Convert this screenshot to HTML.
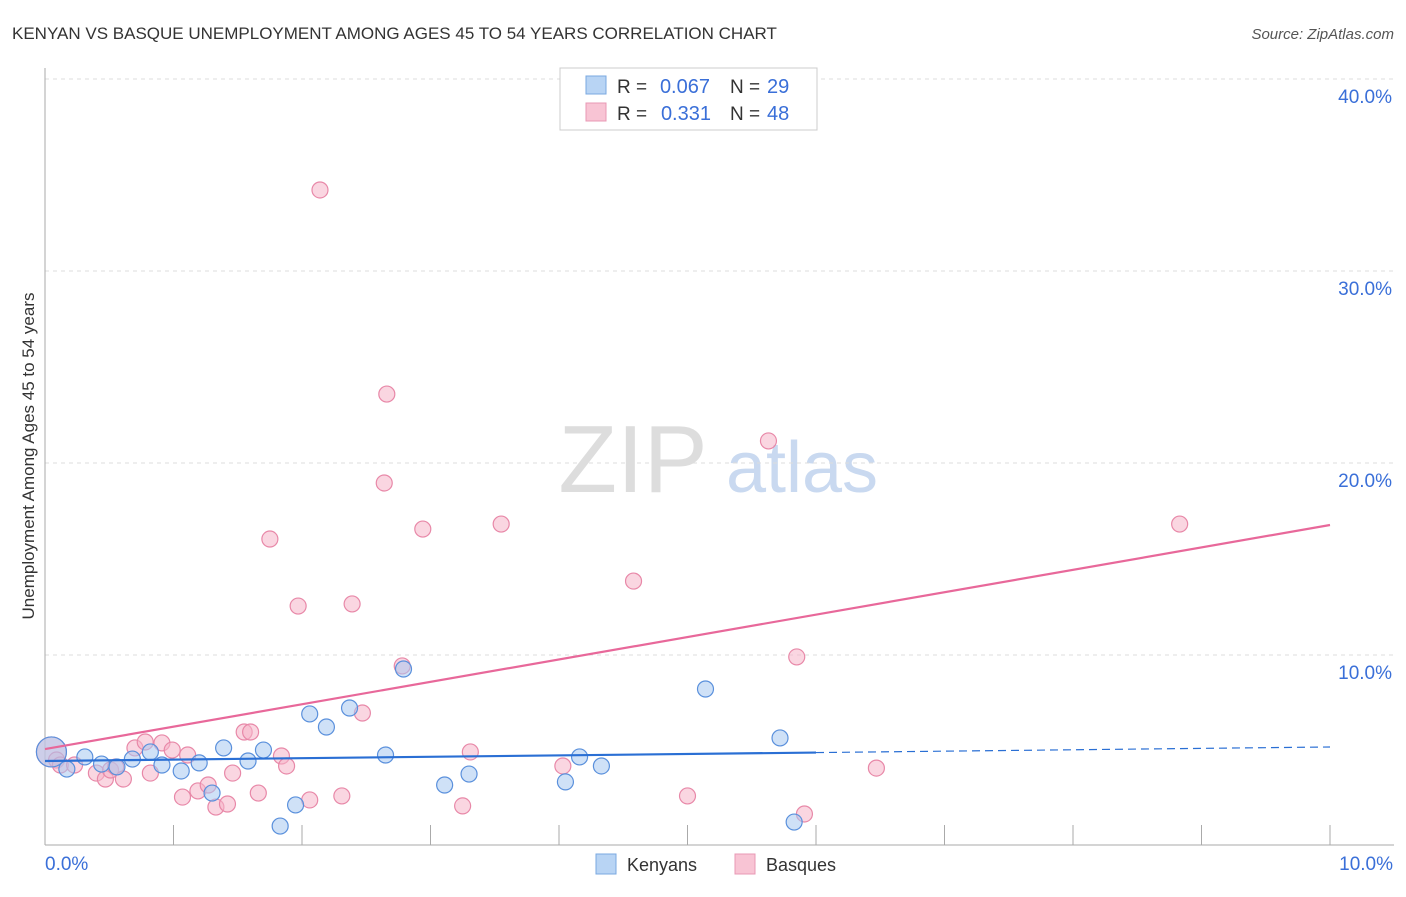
<!DOCTYPE html>
<html><head><meta charset="utf-8"><style>
body{margin:0;background:#fff;font-family:"Liberation Sans",sans-serif;}
svg text{font-family:"Liberation Sans",sans-serif;}
</style></head><body>
<svg id="chart" width="1406" height="892">
<text x="12" y="39" font-size="17" fill="#333">KENYAN VS BASQUE UNEMPLOYMENT AMONG AGES 45 TO 54 YEARS CORRELATION CHART</text>
<text x="1394" y="39" font-size="15" fill="#555" font-style="italic" text-anchor="end">Source: ZipAtlas.com</text>
<text x="633" y="492" font-size="96" fill="#ddd" font-family="Liberation Serif" text-anchor="middle">ZIP</text>
<text x="802" y="492" font-size="72" fill="#c9d9f0" text-anchor="middle">atlas</text>
<text transform="translate(34,456) rotate(-90)" font-size="17" fill="#333" text-anchor="middle">Unemployment Among Ages 45 to 54 years</text>
<g id="grid"></g><g id="marks"></g>
<g>
<rect x="560" y="68" width="257" height="62" fill="#fff" stroke="#ccc"/>
<rect x="586" y="76" width="20" height="18" fill="#b8d4f4" stroke="#7aa8e0"/>
<rect x="586" y="103" width="20" height="18" fill="#f8c4d4" stroke="#e898b4"/>
<text x="617" y="93" font-size="19" fill="#333">R =</text>
<text x="710" y="93" font-size="20" fill="#3a6fd8" text-anchor="end">0.067</text>
<text x="730" y="93" font-size="19" fill="#333">N =</text>
<text x="767" y="93" font-size="20" fill="#3a6fd8">29</text>
<text x="617" y="120" font-size="19" fill="#333">R =</text>
<text x="711" y="120" font-size="20" fill="#3a6fd8" text-anchor="end">0.331</text>
<text x="730" y="120" font-size="19" fill="#333">N =</text>
<text x="767" y="120" font-size="20" fill="#3a6fd8">48</text>
</g>
<g>
<rect x="596" y="854" width="20" height="20" fill="#b8d4f4" stroke="#7aa8e0"/>
<text x="627" y="871" font-size="18" fill="#333">Kenyans</text>
<rect x="735" y="854" width="20" height="20" fill="#f8c4d4" stroke="#e898b4"/>
<text x="766" y="871" font-size="18" fill="#333">Basques</text>
</g>
</svg>
<script>
const yTicks=[10,20,30,40];
const xTickLabels=["0.0%","10.0%"];
const kenX=[0.05,0.17,0.31,0.44,0.56,0.68,0.82,0.91,1.06,1.20,1.30,1.39,1.58,1.70,1.83,1.95,2.06,2.19,2.37,2.65,2.79,3.11,3.30,4.05,4.16,4.33,5.14,5.72,5.83];
const kenY=[4.95,4.06,4.69,4.32,4.17,4.58,4.95,4.27,3.96,4.38,2.81,5.16,4.48,5.05,1.09,2.19,6.93,6.25,7.24,4.79,9.27,3.23,3.80,3.39,4.69,4.22,8.23,5.68,1.30];
const basX=[0.05,0.09,0.12,0.23,0.40,0.47,0.51,0.55,0.61,0.70,0.78,0.82,0.91,0.99,1.07,1.11,1.19,1.27,1.33,1.42,1.46,1.55,1.60,1.66,1.75,1.84,1.88,1.97,2.06,2.14,2.31,2.39,2.47,2.64,2.66,2.78,2.94,3.25,3.31,3.55,4.03,4.58,5.00,5.63,5.85,5.91,6.47,8.83];
const basY=[4.95,4.53,4.27,4.27,3.85,3.54,4.01,4.17,3.54,5.16,5.47,3.85,5.42,5.05,2.60,4.79,2.92,3.23,2.08,2.24,3.85,5.99,5.99,2.81,16.04,4.74,4.22,12.55,2.45,34.22,2.66,12.66,6.98,18.96,23.59,9.43,16.56,2.14,4.95,16.82,4.22,13.85,2.66,21.15,9.90,1.72,4.11,16.82];
const kenTrend=[4.48,5.21];
const basTrend=[5.10,16.77];
const sx=v=>45+v*128.5, sy=v=>847-v*19.2;
const NS="http://www.w3.org/2000/svg";
function mk(tag,attrs,parent){const e=document.createElementNS(NS,tag);for(const k in attrs)e.setAttribute(k,attrs[k]);parent.appendChild(e);return e;}
const grid=document.getElementById('grid'),marks=document.getElementById('marks');
yTicks.forEach(t=>{
 const l=mk('line',{x1:45,x2:1394,y1:sy(t),y2:sy(t),stroke:'#ddd','stroke-dasharray':'4,4'},grid);
 
 
 const tx=mk('text',{x:1392,y:sy(t)+24,'font-size':19,fill:'#3a6fd8','text-anchor':'end'},grid);
 tx.textContent=t.toFixed(1)+'%';
 
 
});
const ax=mk('line',{x1:45,x2:1394,y1:845,y2:845,stroke:'#aaa'},grid);


const ay=mk('line',{x1:45,x2:45,y1:68,y2:845,stroke:'#aaa'},grid);


for(let i=0;i<=10;i++){const t=mk('line',{x1:sx(i),x2:sx(i),y1:825,y2:845,stroke:'#aaa'},grid);
 
 }
[[0,'start',45],[10,'end',1393]].forEach((d,i)=>{const t=mk('text',{x:d[2],y:870,'font-size':19,fill:'#3a6fd8','text-anchor':d[1]},grid);t.textContent=xTickLabels[i];
 
 });
function pts(X,Y,fill,stroke,name){X.forEach((x,i)=>{const r=i==0?15:8;
 const c=mk('circle',{cx:sx(x),cy:sy(Y[i]),r:r,fill:fill,'fill-opacity':0.55,stroke:stroke,'stroke-width':1.2},marks);
 
 });}
pts(basX,basY,'#f6b4c8','#e888a8','basques');
pts(kenX,kenY,'#a8c8f0','#5a90dc','kenyans');
const kl=(v)=>kenTrend[0]+(kenTrend[1]-kenTrend[0])*v/10;
const k1=mk('line',{x1:sx(0),y1:sy(kl(0)),x2:sx(6),y2:sy(kl(6)),stroke:'#2a6fd4','stroke-width':2.2},marks);


const k2=mk('line',{x1:sx(6),y1:sy(kl(6)),x2:sx(10),y2:sy(kl(10)),stroke:'#2a6fd4','stroke-width':1.2,'stroke-dasharray':'8,5'},marks);


const b1=mk('line',{x1:sx(0),y1:sy(basTrend[0]),x2:sx(10),y2:sy(basTrend[1]),stroke:'#e8689a','stroke-width':2.2},marks);


</script>
</body></html>
